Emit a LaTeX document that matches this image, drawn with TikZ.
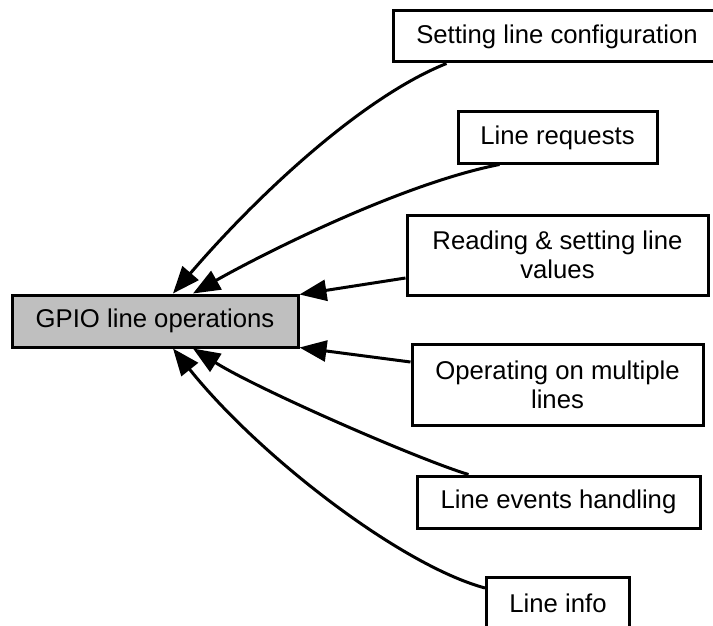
\documentclass[tikz,border=0pt]{standalone}
\usepackage{fontspec}
\setmainfont{Liberation Sans}
\usetikzlibrary{arrows.meta}
\definecolor{gpiogray}{HTML}{BFBFBF}
\begin{document}
\begin{tikzpicture}[x=1pt,y=-1pt,
  box/.style={draw=black, line width=3pt, fill=white, inner sep=0pt, align=center,
    font=\fontsize{25.7}{29}\selectfont},
  edge/.style={line width=3pt, {Triangle[length=27pt,width=21pt]}-}]
\clip (0,0) rectangle (713,626);
\node[box, fill=gpiogray, minimum width=286pt, minimum height=52pt] (gpio) at (155,321) {GPIO line operations};
\node[box, minimum width=328pt, minimum height=51pt] (setting) at (557,36.5) {Setting line configuration};
\node[box, minimum width=199pt, minimum height=51pt] (requests) at (557.5,137.5) {Line requests};
\node[box, minimum width=301pt, minimum height=80pt] (reading) at (557.5,255) {Reading \& setting line\\values};
\node[box, minimum width=291pt, minimum height=81pt] (operating) at (557.5,384.5) {Operating on multiple\\lines};
\node[box, minimum width=283pt, minimum height=52pt] (events) at (558.5,502) {Line events handling};
\node[box, minimum width=143pt, minimum height=52pt] (info) at (558,603) {Line info};

\draw[edge] ([xshift=18pt]gpio.north) .. controls (262,190) and (365,96) .. ([xshift=55pt]setting.south west);
\draw[edge] ([xshift=38pt]gpio.north) .. controls (259,256) and (400,184) .. ([xshift=43pt]requests.south west);
\draw[edge] ([yshift=-1pt]gpio.north east) -- ([yshift=-23pt]reading.west);
\draw[edge] ([yshift=1pt]gpio.south east) -- ([yshift=22.5pt]operating.west);
\draw[edge] ([xshift=38pt]gpio.south) .. controls (259,390) and (420,460) .. ([xshift=53pt]events.north west);
\draw[edge] ([xshift=18pt]gpio.south) .. controls (258,455) and (400,565) .. ([yshift=15pt]info.west);
\end{tikzpicture}
\end{document}
